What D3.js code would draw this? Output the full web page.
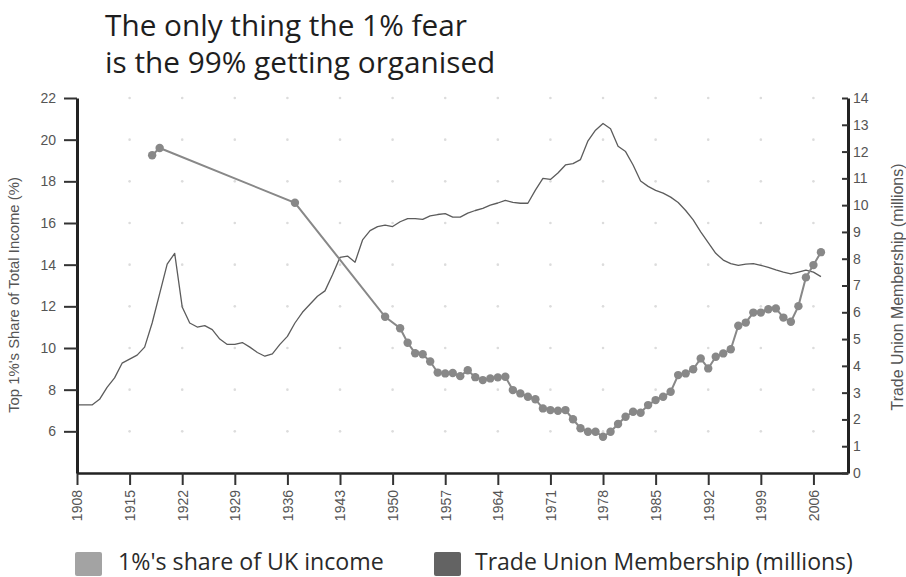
<!DOCTYPE html>
<html><head><meta charset="utf-8">
<script src="https://cdn.jsdelivr.net/npm/d3@7"></script>
<style>body{margin:0;background:#fff}svg{display:block}</style>
</head><body>
<svg id="c" width="906" height="577"></svg>
<script>
const titleLines = ["The only thing the 1% fear", "is the 99% getting organised"];
const legendLabels = ["1%'s share of UK income", "Trade Union Membership (millions)"];
const leftAxisTitle = "Top 1%'s Share of Total Income (%)";
const rightAxisTitle = "Trade Union Membership (millions)";
const xTickYears = [1908,1915,1922,1929,1936,1943,1950,1957,1964,1971,1978,1985,1992,1999,2006];
const leftTicks = [6,8,10,12,14,16,18,20,22];
const rightTicks = [0,1,2,3,4,5,6,7,8,9,10,11,12,13,14];

const incomeYears = [1918,1919,1937,1949,1951,1952,1953,1954,1955,1956,1957,1958,1959,1960,
  1961,1962,1963,1964,1965,1966,1967,1968,1969,1970,1971,1972,1973,1974,1975,1976,1977,1978,1979,
  1980,1981,1982,1983,1984,1985,1986,1987,1988,1989,1990,1991,1992,1993,1994,1995,1996,1997,1998,
  1999,2000,2001,2002,2003,2004,2005,2006,2007];
const incomeShare = [19.25,19.6,16.97,11.5,10.95,10.25,9.75,9.7,9.35,8.82,8.78,8.8,8.65,8.93,
  8.6,8.46,8.54,8.59,8.62,7.98,7.82,7.66,7.54,7.1,7.02,6.99,7.02,6.58,6.15,5.98,5.98,5.74,5.98,
  6.35,6.7,6.94,6.89,7.26,7.5,7.66,7.9,8.7,8.78,8.98,9.5,9.02,9.58,9.74,9.94,11.07,11.22,11.7,
  11.7,11.86,11.9,11.46,11.26,12.01,13.39,13.98,14.6];

const unionYears = d3.range(1908, 2008);
const unionMembers = [2.54,2.54,2.54,2.75,3.2,3.55,4.1,4.25,4.4,4.7,
  5.6,6.7,7.8,8.2,6.2,5.6,5.45,5.5,5.35,5.0,
  4.8,4.8,4.87,4.7,4.5,4.36,4.45,4.8,5.1,5.6,
  6.0,6.3,6.6,6.8,7.4,8.05,8.1,7.87,8.7,9.05,
  9.2,9.25,9.2,9.38,9.5,9.5,9.47,9.6,9.65,9.68,
  9.55,9.55,9.7,9.8,9.88,10.0,10.08,10.18,10.1,10.07,
  10.07,10.56,11.0,10.96,11.2,11.5,11.55,11.7,12.4,12.8,
  13.05,12.85,12.2,12.0,11.5,10.9,10.7,10.55,10.45,10.3,
  10.1,9.8,9.45,9.0,8.6,8.2,7.95,7.82,7.75,7.8,
  7.82,7.75,7.68,7.58,7.5,7.43,7.5,7.57,7.5,7.33];

const svg = d3.select("#c");
const L = 77, R = 848, T = 98, B = 473;
const x = d3.scaleLinear().domain([1908, 2010.6]).range([L, R]);
const yL = d3.scaleLinear().domain([4, 22]).range([B, T]);
const yR = d3.scaleLinear().domain([0, 14]).range([B, T]);

function fit(sel, target) {
  const fs = parseFloat(sel.attr("font-size"));
  const w = sel.node().getComputedTextLength();
  if (w > 0) sel.attr("font-size", fs * target / w);
}

// grid dots
const gridPts = [];
xTickYears.slice(1).forEach(yr => leftTicks.forEach(v => gridPts.push([yr, v])));
svg.append("g").selectAll("circle").data(gridPts).join("circle")
  .attr("cx", d => x(d[0])).attr("cy", d => yL(d[1])).attr("r", 1.3).attr("fill", "#dcdcdc");

// title
const title = svg.append("g").attr("font-family", "Open Sans").attr("fill", "#1e1e1e");
const t1 = title.append("text").attr("x", 105).attr("y", 36).attr("font-size", 30).text(titleLines[0]);
fit(t1, 362);
title.append("text").attr("x", 105).attr("y", 73).attr("font-size", t1.attr("font-size")).text(titleLines[1]);

// union line
svg.append("path").datum(unionYears.map((yr, i) => [yr, unionMembers[i]]))
  .attr("fill", "none").attr("stroke", "#5c5c5c").attr("stroke-width", 1.3)
  .attr("stroke-linejoin", "round")
  .attr("d", d3.line().x(d => x(d[0])).y(d => yR(d[1])));

// income line + dots
const inc = incomeYears.map((yr, i) => [yr, incomeShare[i]]);
svg.append("path").datum(inc)
  .attr("fill", "none").attr("stroke", "#888").attr("stroke-width", 2)
  .attr("d", d3.line().x(d => x(d[0])).y(d => yL(d[1])));
svg.append("g").selectAll("circle").data(inc).join("circle")
  .attr("cx", d => x(d[0])).attr("cy", d => yL(d[1])).attr("r", 4.2).attr("fill", "#888");

// axes
const axisFont = "Liberation Sans";
const gx = svg.append("g").attr("transform", `translate(0,${B})`)
  .call(d3.axisBottom(x).tickValues(xTickYears).tickFormat(d3.format("d")).tickSize(12).tickSizeOuter(0));
gx.select(".domain").attr("stroke", "#222").attr("stroke-width", 2.5);
gx.selectAll(".tick line").attr("stroke", "#333").attr("stroke-width", 2);
gx.selectAll(".tick text").attr("font-family", axisFont).attr("font-size", 14).attr("fill", "#555")
  .attr("transform", "rotate(-90)").attr("text-anchor", "end").attr("x", -17).attr("y", 0).attr("dy", "0.35em");

const gl = svg.append("g").attr("transform", `translate(${L},0)`)
  .call(d3.axisLeft(yL).tickValues(leftTicks).tickSize(13).tickSizeOuter(0).tickPadding(8));
gl.select(".domain").attr("stroke", "#222").attr("stroke-width", 3);
gl.selectAll(".tick line").attr("stroke", "#333").attr("stroke-width", 2);
gl.selectAll(".tick text").attr("font-family", axisFont).attr("font-size", 14).attr("fill", "#555");

const gr = svg.append("g").attr("transform", `translate(${R},0)`)
  .call(d3.axisRight(yR).tickValues(rightTicks).tickSizeInner(-6).tickSizeOuter(0).tickPadding(5));
gr.select(".domain").attr("stroke", "#222").attr("stroke-width", 3);
gr.selectAll(".tick line").attr("stroke", "#333").attr("stroke-width", 2);
gr.selectAll(".tick text").attr("font-family", axisFont).attr("font-size", 14).attr("fill", "#555").attr("x", 5);

// axis titles
const lt = svg.append("text").attr("transform", "translate(19,295) rotate(-90)")
  .attr("text-anchor", "middle").attr("font-family", axisFont).attr("font-size", 12)
  .attr("fill", "#555").text(leftAxisTitle);
fit(lt, 236);
const rt = svg.append("text").attr("transform", "translate(903,287) rotate(-90)")
  .attr("text-anchor", "middle").attr("font-family", axisFont).attr("font-size", 12)
  .attr("fill", "#555").text(rightAxisTitle);
fit(rt, 247);

// legend
const legColors = ["#a3a3a3", "#636363"];
const legSq = [75, 434];
const legTx = [118, 475];
const legW = [266, 378];
legendLabels.forEach((lab, i) => {
  svg.append("rect").attr("x", legSq[i]).attr("y", 552).attr("width", 27).attr("height", 24)
    .attr("rx", 2).attr("fill", legColors[i]);
  const t = svg.append("text").attr("x", legTx[i]).attr("y", 570).attr("font-family", "Open Sans")
    .attr("font-size", 22).attr("fill", "#2a2a2a").text(lab);
  fit(t, legW[i]);
});
</script>
</body></html>
